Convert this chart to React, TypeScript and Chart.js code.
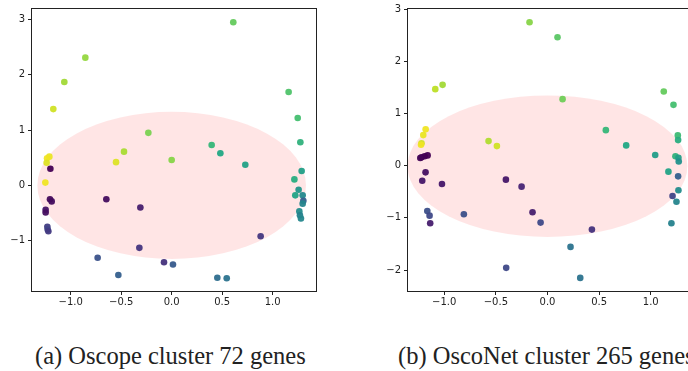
import React, { useEffect, useRef } from "react";
import { Chart, registerables } from "chart.js";

Chart.register(...registerables);

// ---- Data: left panel (Oscope cluster 72 genes) ----
const L_X = [0.61, -0.855, -1.063, -1.172, 1.158, 1.248, 1.274, -0.231, 0.396, 0.482, -0.472, -1.211, -1.234, -1.238, -1.201, -1.251, -0.551, 0.0, 0.729, 1.287, 1.215, 1.257, 1.224, 1.297, 1.304, 1.297, 1.264, 1.27, 1.28, 0.881, -1.205, -1.188, -1.248, -1.248, -1.231, -1.228, -1.221, -0.647, -0.31, -0.32, -0.733, -0.528, -0.076, 0.013, 0.452, 0.545];
const L_Y = [2.95, 2.31, 1.87, 1.38, 1.69, 1.22, 0.78, 0.95, 0.73, 0.58, 0.61, 0.52, 0.49, 0.41, 0.3, 0.05, 0.42, 0.46, 0.373, 0.26, 0.108, -0.078, -0.18, -0.18, -0.28, -0.33, -0.47, -0.54, -0.6, -0.92, -0.25, -0.29, -0.44, -0.49, -0.75, -0.8, -0.83, -0.25, -0.4, -1.13, -1.31, -1.62, -1.39, -1.43, -1.67, -1.68];
const L_C = [0.76, 0.84, 0.86, 0.93, 0.72, 0.7, 0.64, 0.8, 0.66, 0.6, 0.87, 0.97, 0.98, 0.95, 0.0, 0.98, 0.95, 0.82, 0.57, 0.56, 0.62, 0.52, 0.58, 0.47, 0.3, 0.45, 0.48, 0.44, 0.46, 0.16, 0.02, 0.03, 0.05, 0.04, 0.18, 0.2, 0.17, 0.03, 0.08, 0.15, 0.25, 0.3, 0.14, 0.28, 0.36, 0.38];

// ---- Data: right panel (OscoNet cluster 265 genes) ----
const R_X = [-0.174, 0.097, -1.087, -1.016, 0.146, 1.126, 1.22, -1.18, -1.203, -1.22, -1.225, -0.571, -0.49, 0.565, 0.762, 1.043, 1.262, 1.265, 1.239, 1.268, 1.271, -1.161, -1.19, -1.22, -1.232, -1.181, -1.213, -1.022, -0.403, -0.251, -0.145, -0.067, -0.81, -1.164, -1.142, -1.136, 0.43, 0.223, 0.317, -0.4, 1.171, 1.265, 1.268, 1.211, 1.249, 1.2];
const R_Y = [2.745, 2.46, 1.465, 1.548, 1.274, 1.42, 1.165, 0.695, 0.585, 0.43, 0.4, 0.47, 0.375, 0.68, 0.388, 0.203, 0.58, 0.49, 0.18, 0.15, 0.08, 0.197, 0.18, 0.16, 0.146, -0.128, -0.29, -0.351, -0.268, -0.402, -0.893, -1.09, -0.93, -0.87, -0.957, -1.103, -1.224, -1.556, -2.149, -1.957, -0.115, -0.205, -0.472, -0.58, -0.69, -1.103];
const R_C = [0.82, 0.74, 0.9, 0.86, 0.78, 0.76, 0.7, 0.98, 0.97, 0.93, 0.98, 0.88, 0.93, 0.66, 0.6, 0.55, 0.68, 0.62, 0.64, 0.56, 0.5, 0.0, 0.0, 0.0, 0.01, 0.04, 0.06, 0.06, 0.06, 0.1, 0.08, 0.22, 0.24, 0.24, 0.22, 0.08, 0.14, 0.38, 0.38, 0.22, 0.58, 0.3, 0.48, 0.2, 0.45, 0.44];

// ---- Axis ticks / ranges ----
const X_TICKS = [-1.0, -0.5, 0.0, 0.5, 1.0];
const L_Y_TICKS = [-1, 0, 1, 2, 3];
const R_Y_TICKS = [-2, -1, 0, 1, 2, 3];
const L_RANGE = { xMin: -1.383, xMax: 1.429, yMin: -1.91, yMax: 3.19 };
const R_RANGE = { xMin: -1.351, xMax: 1.38, yMin: -2.4, yMax: 3.0 };

// Circle overlay (centre and radius in data units)
const L_CIRCLE = { cx: 0.0, cy: 0.0, r: 1.33 };
const R_CIRCLE = { cx: 0.0, cy: -0.01, r: 1.355 };

const CAPTIONS = ["(a) Oscope cluster 72 genes", "(b) OscoNet cluster 265 genes"];

const VIRIDIS = ["#440154", "#482475", "#414487", "#355f8d", "#2a788e", "#21918c", "#22a884", "#44bf70", "#7ad151", "#bddf26", "#fde725"];

function hex(h: string) {
  return [parseInt(h.slice(1, 3), 16), parseInt(h.slice(3, 5), 16), parseInt(h.slice(5, 7), 16)];
}
function viridis(t: number) {
  const v = Math.max(0, Math.min(1, t)) * 10;
  const i = Math.min(9, Math.floor(v));
  const f = v - i;
  const a = hex(VIRIDIS[i]);
  const b = hex(VIRIDIS[i + 1]);
  const c = a.map((x, k) => Math.round(x + (b[k] - x) * f));
  return `rgba(${c[0]},${c[1]},${c[2]},0.95)`;
}

const fmtMinus = (s: string) => s.replace("-", "\u2212");

function makeChart(
  canvas: HTMLCanvasElement,
  xs: number[],
  ys: number[],
  cs: number[],
  range: { xMin: number; xMax: number; yMin: number; yMax: number },
  yTicks: number[],
  circle: { cx: number; cy: number; r: number },
  padRight: number
) {
  const tickFont = { family: "DejaVu Sans", size: 10 };
  const circlePlugin = {
    id: "circle",
    beforeDatasetsDraw(chart: any) {
      const { ctx, chartArea, scales } = chart;
      const x = scales.x, y = scales.y;
      const px = x.getPixelForValue(circle.cx);
      const py = y.getPixelForValue(circle.cy);
      const rx = Math.abs(x.getPixelForValue(circle.cx + circle.r) - px);
      const ry = Math.abs(y.getPixelForValue(circle.cy + circle.r) - py);
      ctx.save();
      ctx.beginPath();
      ctx.rect(chartArea.left, chartArea.top, chartArea.right - chartArea.left, chartArea.bottom - chartArea.top);
      ctx.clip();
      ctx.beginPath();
      ctx.ellipse(px, py, rx, ry, 0, 0, Math.PI * 2);
      ctx.fillStyle = "rgba(255,0,0,0.1)";
      ctx.fill();
      ctx.restore();
    },
    afterDraw(chart: any) {
      const { ctx, chartArea } = chart;
      ctx.save();
      ctx.strokeStyle = "#222";
      ctx.lineWidth = 1;
      ctx.strokeRect(
        Math.round(chartArea.left) - 0.5,
        Math.round(chartArea.top) - 0.5,
        Math.round(chartArea.right - chartArea.left) + 1,
        Math.round(chartArea.bottom - chartArea.top) + 1
      );
      ctx.restore();
    },
  };
  return new Chart(canvas, {
    type: "scatter",
    data: {
      datasets: [
        {
          data: xs.map((x, i) => ({ x, y: ys[i] })),
          backgroundColor: cs.map(viridis),
          borderWidth: 0,
          pointRadius: 3.3,
          pointHoverRadius: 3.3,
        },
      ],
    },
    options: {
      animation: false,
      responsive: false,
      devicePixelRatio: 1,
      layout: { padding: { top: 9, right: padRight, left: 0, bottom: 0 } },
      plugins: { legend: { display: false }, tooltip: { enabled: false } },
      events: [],
      scales: {
        x: {
          type: "linear",
          min: range.xMin,
          max: range.xMax,
          afterBuildTicks: (s: any) => {
            s.ticks = X_TICKS.map((v) => ({ value: v }));
          },
          afterFit: (s: any) => {
            s.height = 19;
          },
          ticks: {
            font: tickFont,
            color: "#222",
            padding: 1,
            maxRotation: 0,
            autoSkip: false,
            callback: (v: any) => fmtMinus(Number(v).toFixed(1)),
          },
          grid: { display: true, drawOnChartArea: false, drawTicks: true, tickLength: 4, color: "#222" },
          border: { display: false },
        },
        y: {
          type: "linear",
          min: range.yMin,
          max: range.yMax,
          afterBuildTicks: (s: any) => {
            s.ticks = yTicks.map((v) => ({ value: v }));
          },
          afterFit: (s: any) => {
            s.width = 32;
          },
          ticks: {
            font: tickFont,
            color: "#222",
            padding: 3,
            autoSkip: false,
            callback: (v: any) => fmtMinus(String(Math.round(Number(v)))),
          },
          grid: { display: true, drawOnChartArea: false, drawTicks: true, tickLength: 4, color: "#222" },
          border: { display: false },
        },
      },
    },
    plugins: [circlePlugin],
  } as any);
}

export default function App() {
  const leftRef = useRef<HTMLCanvasElement>(null);
  const rightRef = useRef<HTMLCanvasElement>(null);

  useEffect(() => {
    const a = makeChart(leftRef.current!, L_X, L_Y, L_C, L_RANGE, L_Y_TICKS, L_CIRCLE, 4);
    const b = makeChart(rightRef.current!, R_X, R_Y, R_C, R_RANGE, R_Y_TICKS, R_CIRCLE, 16);
    return () => {
      a.destroy();
      b.destroy();
    };
  }, []);

  const captionStyle: React.CSSProperties = {
    position: "absolute",
    top: 342,
    fontFamily: "'Liberation Serif', serif",
    fontSize: 24.5,
    lineHeight: "28px",
    color: "#222",
    whiteSpace: "nowrap",
  };

  return (
    <div
      style={{
        position: "fixed",
        left: 0,
        top: 0,
        width: 688,
        height: 371,
        overflow: "hidden",
        background: "#fff",
      }}
    >
      <canvas ref={leftRef} width={320} height={310} style={{ position: "absolute", left: 0, top: 0 }} />
      <canvas ref={rightRef} width={330} height={310} style={{ position: "absolute", left: 376, top: 0 }} />
      <div style={{ ...captionStyle, left: 35 }}>{CAPTIONS[0]}</div>
      <div style={{ ...captionStyle, left: 398 }}>{CAPTIONS[1]}</div>
    </div>
  );
}
